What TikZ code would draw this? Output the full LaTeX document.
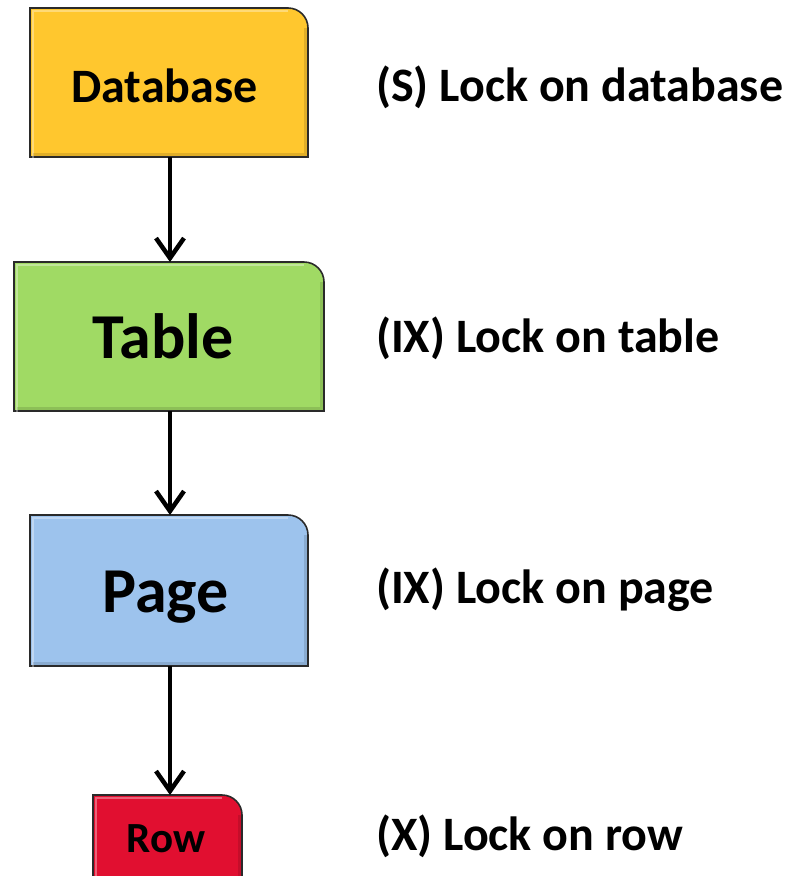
\documentclass[tikz,border=0pt]{standalone}
\usepackage{fontspec}
\setmainfont{Carlito}
\usetikzlibrary{arrows.meta,backgrounds}

\definecolor{dbfill}{HTML}{FFC72E}
\definecolor{tabfill}{HTML}{A0DA64}
\definecolor{pagefill}{HTML}{9DC3ED}
\definecolor{rowfill}{HTML}{E10F30}
\definecolor{edge}{HTML}{2A2A2A}

\tikzset{
  level/.style={inner sep=0pt, outer sep=0pt},
  leveltext/.style={anchor=base, inner sep=0pt, font=\bfseries\fontsize{#1}{#1}\selectfont},
  lockarrow/.style={line width=4.5pt, -{Straight Barb[length=20pt, width=28pt, line width=4.5pt]}},
  locklabel/.style={anchor=base west, inner sep=0pt, font=\bfseries\fontsize{48}{56}\selectfont},
}

% box with only its top right corner rounded, drawn behind node #1 in colour #2
\newcommand{\levelbox}[2]{%
  \begin{scope}[on background layer]
    \path[fill=#2, draw=edge, line width=1.6pt]
      (#1.south west) -- (#1.north west)
      -- ([xshift=-20pt]#1.north east) arc[start angle=90, end angle=0, radius=20pt]
      -- (#1.south east) -- cycle;
    \path[draw=white, opacity=0.35, line width=2.5pt]
      ([xshift=3pt,yshift=-3pt]#1.south west) -- ([xshift=3pt,yshift=-3pt]#1.north west)
      -- ([xshift=-20pt,yshift=-3pt]#1.north east);
    \path[draw=black, opacity=0.12, line width=3pt]
      ([xshift=-3pt,yshift=-20pt]#1.north east) -- ([xshift=-3pt,yshift=3pt]#1.south east)
      -- ([xshift=3pt,yshift=3pt]#1.south west);
  \end{scope}}

\begin{document}
\begin{tikzpicture}[x=1pt, y=-1pt]
  \useasboundingbox (0,0) rectangle (791,876);
  \clip (0,0) rectangle (791,876);

  % the four levels of the lock hierarchy
  \node[level, minimum width=278pt, minimum height=149pt] (db)  at (169,82.5) {};
  \node[level, minimum width=310pt, minimum height=149pt] (tab) at (169,336.5) {};
  \node[level, minimum width=278pt, minimum height=151pt] (pg)  at (169,590.5) {};
  \node[level, minimum width=149pt, minimum height=86pt]  (row) at (167.5,838) {};

  \levelbox{db}{dbfill}
  \levelbox{tab}{tabfill}
  \levelbox{pg}{pagefill}
  \levelbox{row}{rowfill}

  \node[leveltext=48] (tdb)  at (164.5,102) {Database};
  \node[leveltext=64] (ttab) at (163,358) {Table};
  \node[leveltext=64] (tpg)  at (165.5,612) {Page};
  \node[leveltext=43] (trow) at (166,852) {Row};

  % connectors between levels
  \coordinate (a1) at (170,157);
  \coordinate (a2) at (170,411);
  \coordinate (a3) at (170,666);
  \draw[lockarrow] (a1) -- (a1 |- tab.north);
  \draw[lockarrow] (a2) -- (a2 |- pg.north);
  \draw[lockarrow] (a3) -- (a3 |- row.north);

  % lock modes
  \node[locklabel] (ldb)  at (376,101) {(S) Lock on database};
  \node[locklabel] (ltab) at (376,352) {(IX) Lock on table};
  \node[locklabel] (lpg)  at (376,603) {(IX) Lock on page};
  \node[locklabel] (lrow) at (376,850) {(X) Lock on row};
\end{tikzpicture}
\end{document}
